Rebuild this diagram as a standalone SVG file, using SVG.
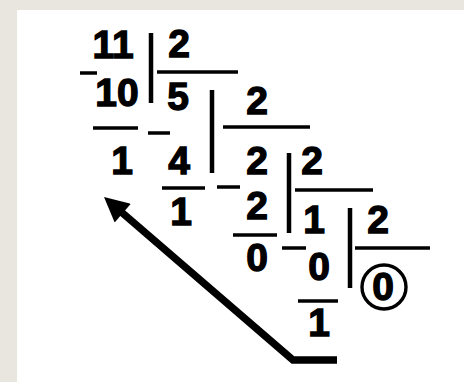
<svg xmlns="http://www.w3.org/2000/svg" width="464" height="382" viewBox="0 0 464 382">
<style>
.d{font-family:"Liberation Sans",Arial,sans-serif;font-weight:bold;font-size:39px;fill:#000;stroke:#000;stroke-width:1.3;text-anchor:middle}
.l{stroke:#000;stroke-width:3.5;fill:none}
.v{stroke:#000;stroke-width:4.5;fill:none}
</style>
<defs>
<marker id="ah" viewBox="0 0 10 10" refX="2" refY="5" markerWidth="3.6" markerHeight="3.3" orient="auto" markerUnits="strokeWidth">
<path d="M0,0 L10,5 L0,10 z" fill="#000"/>
</marker>
</defs>
<rect x="0" y="0" width="464" height="382" fill="#e9e6df"/>
<rect x="17" y="10" width="447" height="372" fill="#fff"/>
<g id="step1">
<text class="d" x="113" y="58">11</text>
<text class="d" x="117" y="106">10</text>
<text class="d" x="122" y="174">1</text>
<line class="l" x1="80" y1="73" x2="97" y2="73"/>
<line class="l" x1="93" y1="128" x2="138" y2="128"/>
<line class="v" x1="151" y1="33" x2="151" y2="103"/>
<line class="l" x1="157" y1="72" x2="238" y2="72"/>
<text class="d" x="179" y="57">2</text>
</g>
<g id="step2">
<text class="d" x="178" y="110">5</text>
<text class="d" x="179" y="174">4</text>
<text class="d" x="181" y="225">1</text>
<line class="l" x1="148" y1="133" x2="170" y2="133"/>
<line class="l" x1="162" y1="188" x2="205" y2="188"/>
<line class="v" x1="212" y1="90" x2="212" y2="173"/>
<line class="l" x1="223" y1="127" x2="310" y2="127"/>
<text class="d" x="257" y="114">2</text>
</g>
<g id="step3">
<text class="d" x="257" y="174">2</text>
<text class="d" x="257" y="219">2</text>
<text class="d" x="257" y="271">0</text>
<line class="l" x1="217" y1="187" x2="240" y2="187"/>
<line class="l" x1="233" y1="235" x2="277" y2="235"/>
<line class="v" x1="289" y1="153" x2="289" y2="233"/>
<line class="l" x1="295" y1="190" x2="373" y2="190"/>
<text class="d" x="312" y="174">2</text>
</g>
<g id="step4">
<text class="d" x="314" y="233">1</text>
<text class="d" x="319" y="280">0</text>
<text class="d" x="319" y="336">1</text>
<line class="l" x1="282" y1="248" x2="306" y2="248"/>
<line class="l" x1="298" y1="301" x2="338" y2="301"/>
<line class="v" x1="350" y1="208" x2="350" y2="288"/>
<line class="l" x1="355" y1="248" x2="430" y2="248"/>
<text class="d" x="378" y="233">2</text>
</g>
<g id="result">
<circle cx="384" cy="287" r="22" fill="none" stroke="#000" stroke-width="3.4"/>
<text class="d" x="383" y="300">0</text>
</g>
<g id="connectors">
<path d="M337,360 L293,360 L119,210" fill="none" stroke="#000" stroke-width="7.5" stroke-linejoin="miter" marker-end="url(#ah)"/>
</g>
</svg>
